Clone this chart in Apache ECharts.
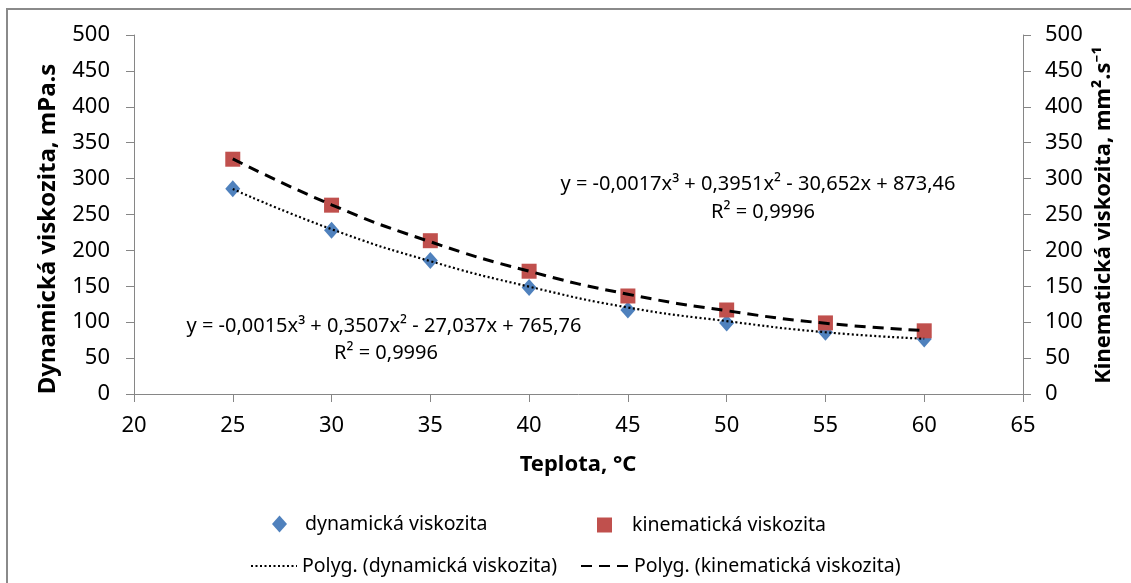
<!DOCTYPE html>
<html>
<head>
    <meta charset="utf-8">
    <title>Viskozita</title>
    <script src="https://cdn.jsdelivr.net/npm/echarts@6/dist/echarts.min.js"></script>
</head>
<body style="margin: 0;">
    <div id="container" style="width: 1131px; height: 583px;"></div>
    <script type="text/javascript">
        // teplota, °C
        var temps = [25, 30, 35, 40, 45, 50, 55, 60];
        // measured values
        var dynVisc = [286, 228, 186, 148.5, 117, 99, 86, 76.5];
        var kinVisc = [327, 263, 213.5, 171, 136.5, 117, 99, 88];
        // polynomial trend
        var dynTrend = [285.5, 229.5, 185, 149.5, 120.5, 101.5, 86, 77];
        var kinTrend = [327.5, 263.5, 212, 171, 139, 116, 98.5, 88.5];

        var names = ['dynamická viskozita', 'kinematická viskozita',
            'Polyg. (dynamická viskozita)', 'Polyg. (kinematická viskozita)'];
        var dynEq = ['y = -0,0015x³ + 0,3507x² - 27,037x + 765,76', 'R² = 0,9996'];
        var kinEq = ['y = -0,0017x³ + 0,3951x² - 30,652x + 873,46', 'R² = 0,9996'];

        function pairs(xs, ys) {
            return xs.map(function (x, i) { return [x, ys[i]]; });
        }

        var font = '"Noto Sans", sans-serif';
        var axisGray = '#868686';

        function valueAxis(extra) {
            var ax = {
                type: 'value',
                axisLine: { show: true, lineStyle: { color: axisGray, width: 1 } },
                axisTick: { show: true, length: 8, lineStyle: { color: axisGray } },
                axisLabel: { fontSize: 22, color: '#000', fontFamily: font },
                splitLine: { show: false }
            };
            for (var k in extra) {
                if (k === 'axisLabel') { Object.assign(ax.axisLabel, extra[k]); }
                else { ax[k] = extra[k]; }
            }
            return ax;
        }

        function txt(text, x, y, size, bold, rot) {
            return {
                type: 'text', x: x, y: y, rotation: rot || 0, z: 50,
                style: {
                    text: text, fontSize: size, fontWeight: bold ? 'bold' : 'normal',
                    fontFamily: font, fill: '#000', align: 'center', verticalAlign: 'middle'
                }
            };
        }

        function legendAt(name, left, top, w, h, pad, hideSymbol) {
            var lg = {
                data: [name], left: left, top: top, padding: 0,
                itemWidth: w, itemHeight: h, selectedMode: false,
                textStyle: { fontSize: 19.5, color: '#000', fontFamily: font, padding: [0, 0, 0, pad] }
            };
            if (hideSymbol) { lg.itemStyle = { opacity: 0 }; }
            return lg;
        }

        var dom = document.getElementById('container');
        var myChart = echarts.init(dom);
        var option = {
            animation: false,
            backgroundColor: '#fff',
            textStyle: { fontFamily: font },
            grid: { left: 134, right: 108, top: 35, bottom: 189, outerBoundsMode: 'none' },
            xAxis: valueAxis({ min: 20, max: 65, interval: 5, axisLabel: { margin: 21 } }),
            yAxis: [
                valueAxis({ min: 0, max: 500, interval: 50, position: 'left', axisLabel: { margin: 24 } }),
                valueAxis({ min: 0, max: 500, interval: 50, position: 'right', axisLabel: { margin: 22 } })
            ],
            legend: [
                legendAt(names[0], 272, 514, 15, 17, 13, false),
                legendAt(names[1], 597, 515, 15, 15, 15, false),
                legendAt(names[2], 250, 556, 46, 14, 0, true),
                legendAt(names[3], 580, 556, 48, 14, 0, true)
            ],
            series: [{
                name: names[0], type: 'scatter', yAxisIndex: 0, z: 2,
                symbol: 'diamond', symbolSize: [15, 17],
                itemStyle: { color: '#4F81BD', opacity: 1 },
                data: pairs(temps, dynVisc)
            }, {
                name: names[1], type: 'scatter', yAxisIndex: 1, z: 3,
                symbol: 'rect', symbolSize: 15,
                itemStyle: { color: '#C0504D', opacity: 1 },
                data: pairs(temps, kinVisc)
            }, {
                name: names[2], type: 'line', yAxisIndex: 0, z: 4,
                smooth: true, symbol: 'none',
                lineStyle: { color: '#000', width: 2.2, type: [2, 2.5] },
                itemStyle: { color: '#000' },
                data: pairs(temps, dynTrend)
            }, {
                name: names[3], type: 'line', yAxisIndex: 1, z: 5,
                smooth: true, symbol: 'none',
                lineStyle: { color: '#000', width: 3, type: [11, 7] },
                itemStyle: { color: '#000' },
                data: pairs(temps, kinTrend)
            }],
            graphic: [
                {
                    type: 'rect', z: 40,
                    shape: { x: 7, y: 9, width: 1140, height: 600 },
                    style: { fill: 'none', stroke: '#8a8a8a', lineWidth: 2 }
                },
                txt('Dynamická viskozita, mPa.s', 48, 229, 24, true, Math.PI / 2),
                txt('Kinematická viskozita, mm².s⁻¹', 1104, 215, 22, true, Math.PI / 2),
                txt('Teplota, °C', 578, 465, 22, true, 0),
                txt(kinEq[0], 758, 184, 20, false, 0),
                txt(kinEq[1], 763, 212, 20, false, 0),
                txt(dynEq[0], 384, 326, 20, false, 0),
                txt(dynEq[1], 386, 353, 20, false, 0)
            ]
        };
        myChart.setOption(option);
    </script>
</body>
</html>
